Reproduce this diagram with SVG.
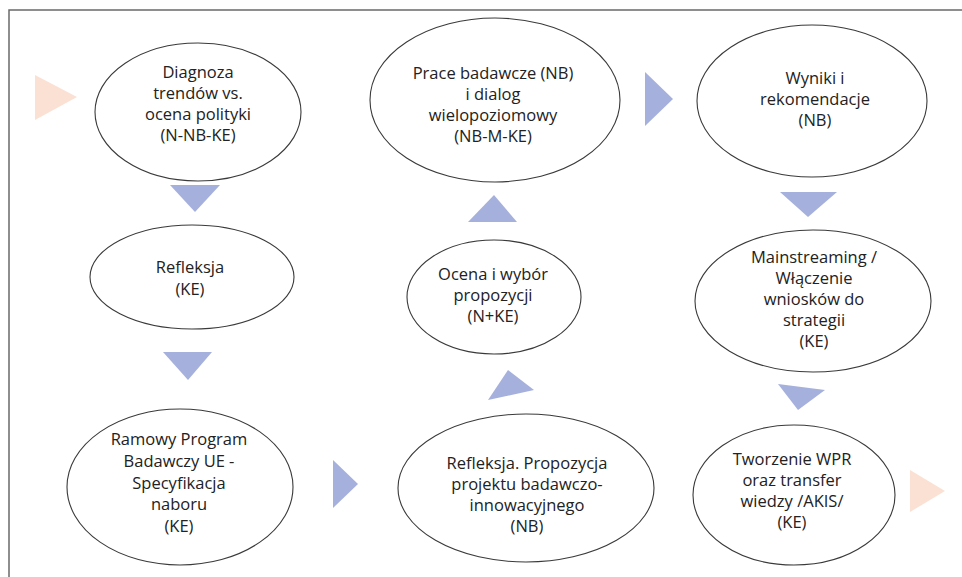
<svg xmlns="http://www.w3.org/2000/svg" width="962" height="577" viewBox="0 0 962 577">
<style>
.bg{fill:#ffffff}
.frame{fill:none;stroke:#6a6a6a;stroke-width:1.5}
.node ellipse{fill:#ffffff;stroke:#3a3a3a;stroke-width:1.1}
.node text{font-family:"Open Sans","Liberation Sans",sans-serif;font-size:16.5px;fill:#222222;text-anchor:middle}
.blue{fill:#a6b0dc}
.peach{fill:#fbe1d3}
</style>
<rect class="bg" x="0" y="0" width="962" height="577"/>
<path class="frame" d="M9,577 V10 H962"/>
<g id="connectors">
<polygon class="peach" points="35,75 35,120 77,97"/>
<polygon class="blue" points="170,185 220,185 195,212"/>
<polygon class="blue" points="163,352 212,352 188,380"/>
<polygon class="blue" points="333,460 333,508 358,484"/>
<polygon class="blue" points="488,400 534,390 508,370"/>
<polygon class="blue" points="468,222 517,222 494,195"/>
<polygon class="blue" points="645,72 645,126 673,99"/>
<polygon class="blue" points="780,192 837,192 808,217"/>
<polygon class="blue" points="778,384 825,390 798,410"/>
<polygon class="peach" points="910,470 910,512 945,491"/>
</g>
<g id="n1" class="node">
<ellipse cx="198" cy="112" rx="103" ry="69"/>
<text x="198" y="78">Diagnoza</text>
<text x="198" y="99">trendów vs.</text>
<text x="198" y="120">ocena polityki</text>
<text x="198" y="141">(N-NB-KE)</text>
</g>
<g id="n2" class="node">
<ellipse cx="192" cy="277" rx="102" ry="52"/>
<text x="190" y="273">Refleksja</text>
<text x="190" y="295">(KE)</text>
</g>
<g id="n3" class="node">
<ellipse cx="180" cy="487" rx="113" ry="78"/>
<text x="179" y="445">Ramowy Program</text>
<text x="179" y="467">Badawczy UE -</text>
<text x="179" y="489">Specyfikacja</text>
<text x="179" y="510">naboru</text>
<text x="179" y="532">(KE)</text>
</g>
<g id="n4" class="node">
<ellipse cx="526" cy="488" rx="128" ry="74"/>
<text x="527" y="469">Refleksja. Propozycja</text>
<text x="527" y="490">projektu badawczo-</text>
<text x="527" y="511">innowacyjnego</text>
<text x="527" y="532">(NB)</text>
</g>
<g id="n5" class="node">
<ellipse cx="494" cy="297" rx="87" ry="57"/>
<text x="493" y="280">Ocena i wybór</text>
<text x="493" y="301">propozycji</text>
<text x="493" y="322">(N+KE)</text>
</g>
<g id="n6" class="node">
<ellipse cx="495" cy="100" rx="125" ry="82"/>
<text x="493" y="79">Prace badawcze (NB)</text>
<text x="493" y="100">i dialog</text>
<text x="493" y="121">wielopoziomowy</text>
<text x="493" y="142">(NB-M-KE)</text>
</g>
<g id="n7" class="node">
<ellipse cx="812" cy="101" rx="115" ry="76"/>
<text x="815" y="84">Wyniki i</text>
<text x="815" y="105">rekomendacje</text>
<text x="815" y="126">(NB)</text>
</g>
<g id="n8" class="node">
<ellipse cx="813" cy="301" rx="118" ry="71"/>
<text x="814" y="263">Mainstreaming /</text>
<text x="814" y="284">Włączenie</text>
<text x="814" y="305">wniosków do</text>
<text x="814" y="326">strategii</text>
<text x="814" y="347">(KE)</text>
</g>
<g id="n9" class="node">
<ellipse cx="794" cy="495" rx="101" ry="70"/>
<text x="792" y="465">Tworzenie WPR</text>
<text x="792" y="486">oraz transfer</text>
<text x="792" y="507">wiedzy /AKIS/</text>
<text x="792" y="528">(KE)</text>
</g>
</svg>
